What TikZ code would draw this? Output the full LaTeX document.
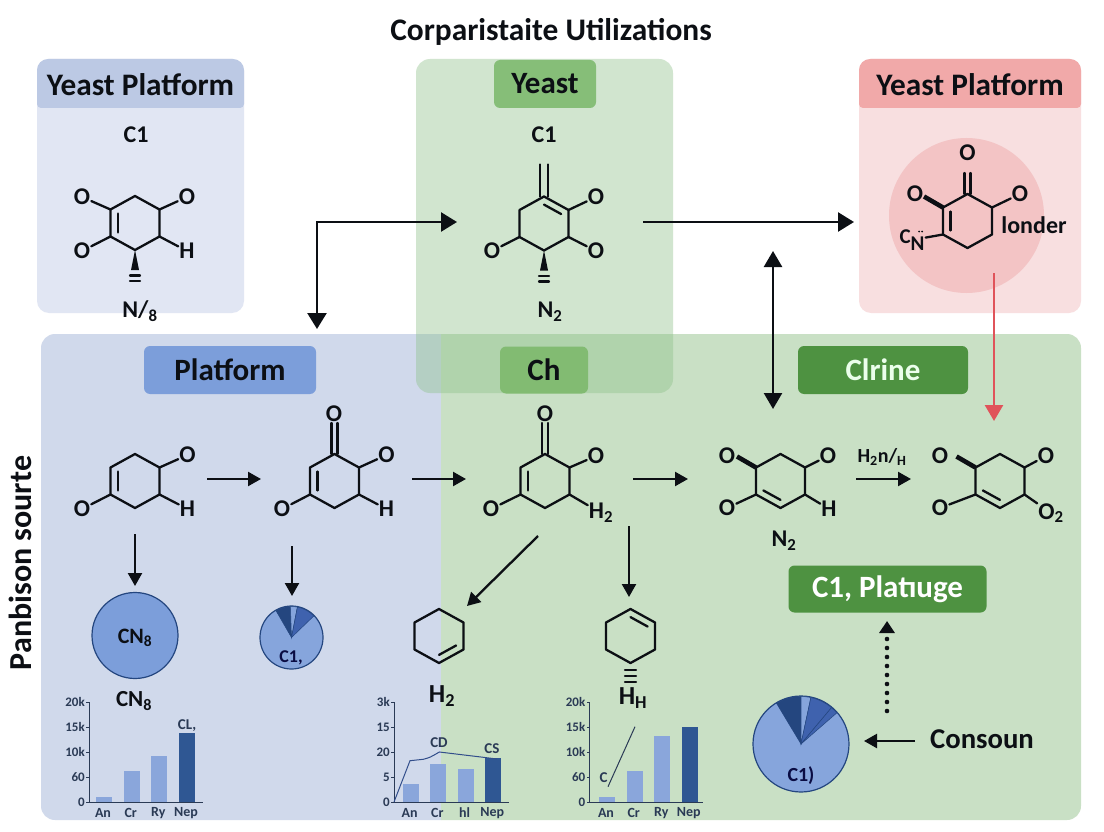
\documentclass[tikz,border=0pt]{standalone}
\usepackage{xcolor}
\usepackage{fontspec}
\setmainfont{Carlito}
\usepackage{tikz}
\usetikzlibrary{arrows.meta,calc}

\definecolor{ink}{HTML}{0C0F14}
\definecolor{bluebody}{HTML}{E1E6F3}
\definecolor{bluehead}{HTML}{BCC9E4}
\definecolor{bluepanel}{HTML}{D0D9EB}
\definecolor{greenpanel}{HTML}{C9E0C5}
\definecolor{yeastgreen}{HTML}{8CC088}
\definecolor{yeasthead}{HTML}{86BE78}
\definecolor{chbadge}{HTML}{82BB72}
\definecolor{badgegreen}{HTML}{4E9241}
\definecolor{badgeblue}{HTML}{7C9EDA}
\definecolor{pinkbody}{HTML}{F8DFE0}
\definecolor{pinkhead}{HTML}{F1A9A9}
\definecolor{pinkdisc}{HTML}{F3C4C5}
\definecolor{redflow}{HTML}{E0535A}
\definecolor{barlight}{HTML}{8AA6DB}
\definecolor{bardark}{HTML}{2F5793}
\definecolor{pieblue}{HTML}{86A5DC}
\definecolor{pienavy}{HTML}{24467F}
\definecolor{piemid}{HTML}{3F62AE}
\definecolor{axisgrey}{HTML}{2A3A55}

\tikzset{
  bond/.style={draw=ink,line width=2.3pt,line join=round,line cap=round},
  atom/.style={inner sep=1pt,text=ink,font=\bfseries\fontsize{24}{26}\selectfont},
  lbl/.style={inner sep=0pt,text=ink,font=\bfseries\fontsize{24}{26}\selectfont},
  headlbl/.style={inner sep=0pt,text=ink,font=\bfseries\fontsize{31.3}{35}\selectfont},
  badge/.style={inner sep=0pt,rounded corners=6pt,text=ink,font=\bfseries\fontsize{31}{35}\selectfont},
  ticklbl/.style={inner sep=0pt,anchor=east,text=axisgrey,font=\bfseries\fontsize{13}{15}\selectfont},
  barlbl/.style={inner sep=0pt,text=axisgrey,font=\bfseries\fontsize{14}{16}\selectfont},
  notelbl/.style={inner sep=0pt,text=axisgrey,font=\bfseries\fontsize{15}{17}\selectfont},
  axisline/.style={draw=axisgrey,line width=1pt},
  flow/.style={draw=ink,line width=2.3pt,-{Triangle[length=13pt,width=14pt]}},
  bigflow/.style={draw=ink,line width=2.5pt,-{Triangle[length=16pt,width=19pt]}},
  hexring/.pic={
    \coordinate (-c) at (0,0);
    \coordinate (-t) at (0,-27);
    \coordinate (-ur) at (24.5,-13.5);
    \coordinate (-lr) at (24.5,13.5);
    \coordinate (-b) at (0,27);
    \coordinate (-ll) at (-24.5,13.5);
    \coordinate (-ul) at (-24.5,-13.5);
    \draw[bond] (-t) -- (-ur) -- (-lr) -- (-b) -- (-ll) -- (-ul) -- cycle;
  }
}

\newcommand{\innerbond}[3]{\draw[bond] ($(#1-#2)!.3!(#1-c)$) -- ($(#1-#3)!.3!(#1-c)$);}
\newcommand{\carbonyl}[3]{\draw[bond] ($(#1-t)+(-#2,0)$) -- ++(0,#3); \draw[bond] ($(#1-t)+(#2,0)$) -- ++(0,#3);}
\newcommand{\stereobase}[1]{\fill[ink] (#1-b) -- ++(-4,20) -- ++(8,0) -- cycle;
  \draw[bond] ($(#1-b)+(-5,25.5)$) -- ++(10,0); \draw[bond] ($(#1-b)+(-5,31)$) -- ++(10,0);}
\newcommand{\boldbond}[1]{\draw[bond,line width=4.6pt,line cap=butt] (#1-ul) -- ++(-19,-11);}
\newcommand{\panelhead}[3]{\fill[#3] [rounded corners=4pt] (#1,84) -- (#1,108) -- (#2,108) -- (#2,84) [rounded corners=11pt] -- (#2,59) -- (#1,59) -- cycle;}
\newcommand{\pieslice}[4]{\filldraw[draw=pienavy,line width=.5pt,fill=#4] (0,0) -- (#1:#3) arc[start angle=#1,end angle=#2,radius=#3] -- cycle;}
\newcommand{\chartframe}[4]{\draw[axisline] (#2,702) -- (#2,802) -- (#3,802);
  \foreach \ticktext [count=\tickno from 0] in {#4} {
    \draw[axisline] (#2,702+25*\tickno) -- ++(-3,0);
    \node[ticklbl] (#1tick\tickno) at (#2-4,702+25*\tickno) {\ticktext};
  }}
\newcommand{\chartbars}[2]{\foreach \barx/\bartop/\barcol/\barname [count=\barno] in {#2} {
    \fill[\barcol] (\barx,\bartop) rectangle (\barx+16,802);
    \node[barlbl] (#1bar\barno) at (\barx+7,813) {\barname};
  }}

\begin{document}
\begin{tikzpicture}[x=1pt,y=-1pt]
\path[use as bounding box] (0,0) rectangle (1104,832);
\path[fill=white,draw=none] (0,0) rectangle (1104,832);
\foreach \cname/\cx/\cy in {yeastin/457/222,platin/317/329,outs/643/222,oute/854/222,dbltop/773/251,dblbot/773/409,
    reds/994/273,rede/994/421,a1s/207/479,a1e/261/479,a2s/412/479,a2e/466/479,a3s/633/479,a3e/688/479,a4s/856/479,a4e/911/479,
    d1s/135/534,d1e/135/586,d2s/292/546,d2e/292/596,d3s/538/536,d3e/467/606,d4s/629/526,d4e/629/597,
    cons/915/741,cone/864/741,dots/887/711,dote/887/621} {
  \coordinate (\cname) at (\cx,\cy);
}

\node[inner sep=0pt,text=ink,font=\bfseries\fontsize{31.4}{35}\selectfont] (title) at (551,31.5) {Corparistaite Utilizations};

\path[fill=bluebody,rounded corners=12pt] (37,59) rectangle (244,313);
\panelhead{37}{244}{bluehead}
\node[headlbl] (headA) at (140.5,85) {Yeast Platform};
\node[lbl] (c1A) at (136,135) {C1};
\path[fill=pinkbody,rounded corners=12pt] (859,59) rectangle (1081,313);
\panelhead{859}{1081}{pinkhead}
\node[headlbl] (headC) at (970,85) {Yeast Platform};
\path[fill=pinkdisc] (966.5,215.5) circle[radius=77.5];

\path[fill=bluepanel] (441,334) [rounded corners=14pt] -- (41,334) -- (41,820) [sharp corners] -- (441,820) -- cycle;
\path[fill=greenpanel] (441,334) [rounded corners=14pt] -- (1081,334) -- (1081,820) [sharp corners] -- (441,820) -- cycle;
\path[fill=yeastgreen,fill opacity=.4,rounded corners=14pt] (416,59) rectangle (673,393);
\node[badge,fill=yeasthead,minimum width=102pt,minimum height=48pt] (headB) at (545,84) {Yeast};
\node[lbl] (c1B) at (544,135) {C1};
\node[badge,fill=badgeblue,minimum width=172pt,minimum height=48pt] (platform) at (230,370) {Platform};
\node[badge,fill=chbadge,minimum width=88pt,minimum height=47pt] (chbox) at (544,370) {Ch};
\node[badge,fill=badgegreen,text=white!92!green,minimum width=170pt,minimum height=48pt] (clrine) at (883,370) {Clrine};
\node[badge,fill=badgegreen,text=white,minimum width=198pt,minimum height=47pt] (plat) at (887.5,589) {C1, Platıuge};
\node[rotate=90,inner sep=0pt,text=ink,font=\bfseries\fontsize{32}{36}\selectfont] (side) at (20,563) {Panbison sourte};

\pic (m1) at (135,223) {hexring};
\innerbond{m1}{ul}{ll}
\stereobase{m1}
\node[atom] (m1a) at (82,197) {O};
\node[atom] (m1b) at (187,197) {O};
\node[atom] (m1c) at (82,251) {O};
\node[atom] (m1d) at (187,251) {H};
\draw[bond] (m1-ul) -- (m1a); \draw[bond] (m1-ur) -- (m1b); \draw[bond] (m1-ll) -- (m1c); \draw[bond] (m1-lr) -- (m1d);
\node[lbl] (n8) at (140,311) {N/\textsubscript{8}};

\pic (m2) at (544,223.5) {hexring};
\innerbond{m2}{t}{ur}
\carbonyl{m2}{4}{-32}
\stereobase{m2}
\node[atom] (m2a) at (596,197) {O};
\node[atom] (m2b) at (596,251) {O};
\node[atom] (m2c) at (492,251) {O};
\draw[bond] (m2-ur) -- (m2a); \draw[bond] (m2-lr) -- (m2b); \draw[bond] (m2-ll) -- (m2c);
\node[lbl] (n2top) at (550,312) {N\textsubscript{2}};

\pic (m3) at (967.5,221) {hexring};
\innerbond{m3}{ul}{ll}
\carbonyl{m3}{3}{-21}
\boldbond{m3}
\node[atom] (m3a) at (967.5,153) {O};
\node[atom] (m3b) at (915,194) {O};
\node[atom] (m3c) at (1020,194) {O};
\node[atom,font=\bfseries\fontsize{21}{23}\selectfont] (m3d) at (912,240) {C\raisebox{-.35em}{N}};
\fill[ink] (919,231.5) circle[radius=1] (922,231.5) circle[radius=1];
\draw[bond] (m3-ur) -- (m3c); \draw[bond] (m3-ll) -- (m3d);
\node[inner sep=0pt,text=ink,font=\bfseries\fontsize{24}{26}\selectfont] (londer) at (1034,225) {londer};

\pic (m4) at (135,481) {hexring};
\innerbond{m4}{ul}{ll}
\node[atom] (m4a) at (187.5,455) {O};
\node[atom] (m4b) at (187.5,509) {H};
\node[atom] (m4c) at (82,509) {O};
\draw[bond] (m4-ur) -- (m4a); \draw[bond] (m4-lr) -- (m4b); \draw[bond] (m4-ll) -- (m4c);

\pic (m5) at (334.5,481) {hexring};
\innerbond{m5}{ul}{ll}
\carbonyl{m5}{3}{-31}
\node[atom] (m5t) at (334,414) {O};
\node[atom] (m5a) at (386.5,455) {O};
\node[atom] (m5b) at (386.5,509) {H};
\node[atom] (m5c) at (282,509) {O};
\draw[bond] (m5-ur) -- (m5a); \draw[bond] (m5-lr) -- (m5b); \draw[bond] (m5-ll) -- (m5c);

\pic (m6) at (545,481) {hexring};
\innerbond{m6}{ul}{ll}
\carbonyl{m6}{3}{-31}
\node[atom] (m6t) at (545,414) {O};
\node[atom] (m6a) at (596,456) {O};
\node[atom] (m6b) at (601,513) {H\textsubscript{2}};
\node[atom] (m6c) at (491,509) {O};
\draw[bond] (m6-ur) -- (m6a); \draw[bond] (m6-lr) -- (m6b); \draw[bond] (m6-ll) -- (m6c);

\pic (m7) at (780.5,481) {hexring};
\innerbond{m7}{ll}{b}
\boldbond{m7}
\node[atom] (m7a) at (727,456) {O};
\node[atom] (m7b) at (828,456) {O};
\node[atom] (m7c) at (727,508) {O};
\node[atom] (m7d) at (829,509) {H};
\draw[bond] (m7-ur) -- (m7b); \draw[bond] (m7-ll) -- (m7c); \draw[bond] (m7-lr) -- (m7d);
\node[lbl] (n2low) at (784,541) {N\textsubscript{2}};
\node[inner sep=0pt,text=ink,font=\bfseries\fontsize{20}{22}\selectfont] (h2n) at (882,457) {H\textsubscript{2}n/\textsubscript{H}};

\pic (m8) at (1000,481) {hexring};
\innerbond{m8}{ll}{b}
\boldbond{m8}
\node[atom] (m8a) at (940,456) {O};
\node[atom] (m8b) at (1046,456) {O};
\node[atom] (m8c) at (940,508) {O};
\node[atom] (m8d) at (1051,513) {O\textsubscript{2}};
\draw[bond] (m8-ur) -- (m8b); \draw[bond] (m8-ll) -- (m8c); \draw[bond] (m8-lr) -- (m8d);

\pic (ringA) at (439,636) {hexring};
\innerbond{ringA}{lr}{b}
\pic (ringB) at (630.5,636) {hexring};
\innerbond{ringB}{t}{ur}
\foreach \dashy in {670,676,682} {\draw[bond] (625,\dashy) -- (636,\dashy);}
\node[inner sep=0pt,text=ink,font=\bfseries\fontsize{26}{28}\selectfont] (h2) at (442,696) {H\textsubscript{2}};
\node[inner sep=0pt,text=ink,font=\bfseries\fontsize{26}{28}\selectfont] (hh) at (633,698) {H\textsubscript{H}};

\draw[bigflow,{Triangle[length=16pt,width=19pt]}-{Triangle[length=16pt,width=19pt]}] (yeastin) -| (platin);
\draw[bigflow] (outs) -- (oute);
\draw[bigflow,{Triangle[length=16pt,width=18pt]}-{Triangle[length=16pt,width=18pt]}] (dbltop) -- (dblbot);
\draw[draw=redflow,line width=2.6pt,-{Triangle[length=16pt,width=18pt,fill=redflow]}] (reds) -- (rede);
\foreach \flowa/\flowb in {a1s/a1e,a2s/a2e,a3s/a3e,a4s/a4e,d1s/d1e,d2s/d2e,d3s/d3e,d4s/d4e,cons/cone} {
  \draw[flow] (\flowa) -- (\flowb);
}
\draw[draw=ink,line width=4.6pt,line cap=round,dash pattern=on 0pt off 9pt,-{Triangle[length=12pt,width=15pt]}] (dots) -- (dote);
\node[inner sep=0pt,text=ink,font=\bfseries\fontsize{28.7}{32}\selectfont] (consoun) at (982,739) {Consoun};

\path[fill=badgeblue,draw=pienavy,line width=1.2pt] (135,635.5) circle[radius=43];
\node[inner sep=0pt,text=ink,font=\bfseries\fontsize{22}{24}\selectfont] (cn8a) at (135,638) {CN\textsubscript{8}};
\node[inner sep=0pt,text=ink,font=\bfseries\fontsize{23}{26}\selectfont] (cn8b) at (134,701) {CN\textsubscript{8}};

\begin{scope}[shift={(291.5,637.5)},y=1pt]
\path[fill=pieblue,draw=pienavy,line width=1.2pt] (0,0) circle[radius=31.5];
\pieslice{92}{120}{31}{pienavy}
\pieslice{79}{92}{31}{pieblue}
\pieslice{44}{79}{31}{piemid}
\end{scope}
\node[inner sep=0pt,text=ink!80!blue,font=\bfseries\fontsize{18}{20}\selectfont] (pieB) at (291,658) {C1,};

\begin{scope}[shift={(801,744)},y=1pt]
\path[fill=pieblue,draw=pienavy,line width=1.2pt] (0,0) circle[radius=48];
\pieslice{90}{121}{47.5}{pienavy}
\pieslice{78}{90}{47.5}{pieblue}
\pieslice{50}{78}{47.5}{piemid}
\pieslice{41}{50}{47.5}{piemid}
\end{scope}
\node[inner sep=0pt,text=ink!80!blue,font=\bfseries\fontsize{20}{22}\selectfont] (pieC) at (801,776) {C1)};

\chartframe{chA}{89}{203}{20k,15k,10k,60,0}
\chartbars{chA}{96/796.7/barlight/An,123.7/771/barlight/Cr,151.3/756/barlight/Ry,179/733.3/bardark/Nep}
\node[notelbl] (cla) at (187,726) {CL,};

\chartframe{chB}{394}{509}{3k,15,20,5,0}
\chartbars{chB}{402.7/784/barlight/An,430.3/764/barlight/Cr,457.7/769.3/barlight/hl,485.3/758.3/bardark/Nep}
\draw[draw=piemid!80!black,line width=1pt] (394,802) -- (410,760.7) -- (423.3,759.3) .. controls (430,757.5) .. (439.3,752) -- (485,757.5) -- (497,759);
\node[notelbl] (cdb) at (439,743) {CD};
\node[notelbl] (csb) at (492,749) {CS};

\chartframe{chC}{589.5}{703}{20k,15k,10k,60,0}
\chartbars{chC}{599/797.3/barlight/An,626.7/771/barlight/Cr,654.3/735.7/barlight/Ry,681.7/727/bardark/Nep}
\draw[draw=axisgrey,line width=1pt] (608,786.7) -- (635,726.7);
\node[notelbl] (cc) at (603.5,778) {C};
\end{tikzpicture}
\end{document}
